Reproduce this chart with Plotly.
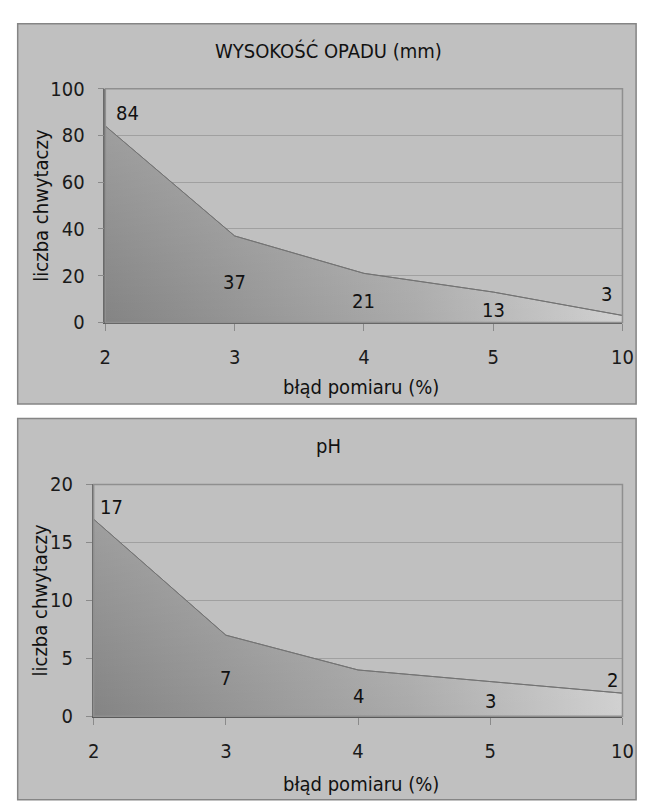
import plotly.graph_objects as go

W, H = 651, 805

categories = ["2", "3", "4", "5", "10"]
opad_values = [84, 37, 21, 13, 3]
ph_values = [17, 7, 4, 3, 2]

opad_yticks = [0, 20, 40, 60, 80, 100]
ph_yticks = [0, 5, 10, 15, 20]

title_top = "WYSOKOŚĆ OPADU (mm)"
title_bottom = "pH"
x_title = "błąd pomiaru (%)"
y_title = "liczba chwytaczy"

# label pixel offsets (xshift, yshift) relative to each point
opad_shifts = [(22, 13), (0, -46), (0, -28), (0, -18), (-16, 21)]
ph_shifts = [(18, 12), (0, -43), (0, -26), (0, -19), (-10, 13)]

FONT = "DejaVu Sans Condensed, DejaVu Sans"
xs = list(range(len(categories)))

def px_x(p):
    return p / W

def px_y(p):
    return 1 - p / H

fig = go.Figure()

panels = [
    dict(vals=opad_values, yticks=opad_yticks, ymax=100, box=(102, 633, 79, 320),
         frame=(12, 647, 12, 404), title=title_top, title_y=40, xt_y=387,
         shifts=opad_shifts),
    dict(vals=ph_values, yticks=ph_yticks, ymax=20, box=(90, 633, 487, 726),
         frame=(12, 647, 419, 812), title=title_bottom, title_y=447, xt_y=796,
         shifts=ph_shifts),
]

shapes = []
annotations = []
for i, p in enumerate(panels):
    n = "" if i == 0 else str(i + 1)
    l, r, t, b = p["box"]
    fl, fr, ft, fb = p["frame"]
    shapes.append(dict(type="rect", xref="paper", yref="paper",
                       x0=px_x(fl), x1=px_x(fr), y0=px_y(fb), y1=px_y(ft),
                       fillcolor="#c0c0c0", line=dict(color="#858585", width=1.5),
                       layer="below"))
    shapes.append(dict(type="rect", xref="paper", yref="paper",
                       x0=px_x(l), x1=px_x(r), y0=px_y(b), y1=px_y(t),
                       fillcolor="rgba(0,0,0,0)", line=dict(color="#8f8f8f", width=1.5),
                       layer="above"))
    fig.add_trace(go.Scatter(
        x=xs, y=p["vals"], mode="lines", fill="tozeroy",
        line=dict(color="#737373", width=1),
        fillgradient=dict(type="horizontal",
                          colorscale=[[0, "#838383"], [0.6, "#aaaaaa"], [1, "#d0d0d0"]]),
        xaxis="x" + n, yaxis="y" + n, showlegend=False, hoverinfo="skip"))
    fig.add_trace(go.Scatter(
        x=xs, y=p["vals"], mode="lines", fill="tozeroy",
        line=dict(color="#737373", width=1),
        fillgradient=dict(type="vertical", start=0, stop=max(p["vals"]),
                          colorscale=[[0, "rgba(255,255,255,0)"], [1, "rgba(255,255,255,0.22)"]]),
        xaxis="x" + n, yaxis="y" + n, showlegend=False, hoverinfo="skip"))
    fig.update_layout(**{
        "xaxis" + n: dict(domain=[px_x(l), px_x(r)], range=[0, len(xs) - 1],
                          tickvals=xs, ticktext=categories, showgrid=False,
                          zeroline=False, showline=True, linecolor="#5a5a5a", linewidth=1.5,
                          ticks="outside", ticklen=7, tickcolor="#8a8a8a",
                          ticklabelstandoff=9,
                          tickfont=dict(family=FONT, size=20, color="#1a1a1a"),
                          anchor="y" + n, fixedrange=True),
        "yaxis" + n: dict(domain=[px_y(b), px_y(t)], range=[0, p["ymax"]],
                          tickvals=p["yticks"], showgrid=True, gridcolor="#a0a0a0",
                          gridwidth=1, zeroline=False, showline=True,
                          linecolor="#6a6a6a", linewidth=1.5,
                          ticks="outside", ticklen=6, tickcolor="#8a8a8a",
                          ticklabelstandoff=9,
                          tickfont=dict(family=FONT, size=20, color="#1a1a1a"),
                          anchor="x" + n, fixedrange=True),
    })
    for xi, v, (dx, dy) in zip(xs, p["vals"], p["shifts"]):
        annotations.append(dict(x=xi, y=v, xref="x" + n, yref="y" + n, text=str(v),
                                showarrow=False, xshift=dx, yshift=dy,
                                xanchor="center", yanchor="middle",
                                font=dict(family=FONT, size=20, color="#111111")))
    annotations.append(dict(x=px_x(331), y=px_y(p["title_y"]), xref="paper", yref="paper",
                            text=p["title"], showarrow=False,
                            xanchor="center", yanchor="middle",
                            font=dict(family=FONT, size=20, color="#111111")))
    annotations.append(dict(x=px_x(365), y=px_y(p["xt_y"]), xref="paper", yref="paper",
                            text=x_title, showarrow=False,
                            xanchor="center", yanchor="middle",
                            font=dict(family=FONT, size=20, color="#111111")))
    annotations.append(dict(x=px_x(35), y=px_y((t + b) / 2), xref="paper", yref="paper",
                            text=y_title, showarrow=False, textangle=-90,
                            xanchor="center", yanchor="middle",
                            font=dict(family=FONT, size=20, color="#111111")))

fig.update_layout(width=W, height=H, margin=dict(l=0, r=0, t=0, b=0),
                  paper_bgcolor="white", plot_bgcolor="white",
                  shapes=shapes, annotations=annotations, showlegend=False)

fig.write_html("out.html", config={"displayModeBar": False},
               post_script="document.body.style.margin='0';document.body.style.overflow='hidden';")
